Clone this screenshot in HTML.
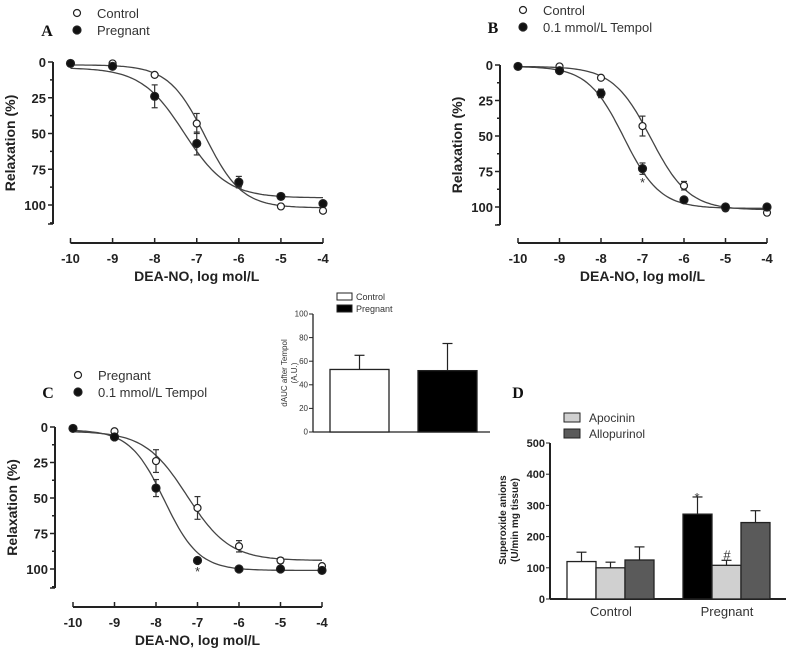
<!DOCTYPE html>
<html><head><meta charset="utf-8"><style>
html,body{margin:0;padding:0;background:#fff}
svg{display:block}
text{font-family:"Liberation Sans",Arial,sans-serif}
.tk{font-weight:bold;font-size:13px;fill:#222}
.ttl{font-weight:bold;font-size:14px;fill:#222}
.leg{font-size:13px;fill:#333}
.let{font-family:"Liberation Serif",serif;font-weight:bold;font-size:16px;fill:#111}
</style></head><body>
<svg id="fig" width="790" height="652" viewBox="0 0 790 652" xmlns="http://www.w3.org/2000/svg"></svg>
<script>
// ---- data ----
const doseTicks = [-10,-9,-8,-7,-6,-5,-4];
const relaxTicks = [0,25,50,75,100];
// Panel A
const aControl = [1,1,9,43,85,101,104];
const aControlErr = [0,0,1,7,2,1,1];
const aPregnant = [1,3,24,57,84,94,99];
const aPregnantErr = [0,1,8,8,4,2,1];
const aControlFit = [2,102,-6.8,1];
const aPregnantFit = [4,95,-7.3,0.85];
// Panel B
const bControl = [1,1,9,43,85,101,104];
const bControlErr = [0,0,1,7,3,1,1];
const bTempol = [1,4,20,73,95,100,100];
const bTempolErr = [0,1,3,4,1,1,1];
const bControlFit = [1,102,-6.8,0.95];
const bTempolFit = [1,101,-7.45,1];
// Panel C
const cPregnant = [1,3,24,57,84,94,98];
const cPregnantErr = [0,1,8,8,4,2,1];
const cTempol = [1,7,43,94,100,100,101];
const cTempolErr = [0,1,6,1,1,1,1];
const cPregnantFit = [3,94,-7.25,0.85];
const cTempolFit = [2,101,-7.8,1.05];
// Inset
const insetGroups = ["Control","Pregnant"];
const insetValues = [53,52];
const insetErr = [12,23];
const insetTicks = [0,20,40,60,80,100];
// Panel D
const dGroups = ["Control","Pregnant"];
const dBaseline = [120,272];
const dBaselineErr = [30,55];
const dApocinin = [100,108];
const dApocininErr = [18,16];
const dAllopurinol = [125,245];
const dAllopurinolErr = [42,38];
const dTicks = [0,100,200,300,400,500];

const NS="http://www.w3.org/2000/svg";
const svg=document.getElementById('fig');
function mk(tag,attrs,parent){const e=document.createElementNS(NS,tag);for(const k in attrs)e.setAttribute(k,attrs[k]);(parent||svg).appendChild(e);return e;}
function txt(x,y,s,cls,anchor,parent){const t=mk('text',{x:x,y:y,class:cls,'text-anchor':anchor||'middle'},parent);t.textContent=s;return t;}

function curvePanel(cfg){
  const g=mk('g',{});
  
  
  const X=v=>cfg.x0+(v+10)/6*(cfg.x1-cfg.x0);
  const Y=v=>cfg.y0+v/100*(cfg.y100-cfg.y0);
  const ya=mk('g',{},g);
  
  
  mk('line',{x1:cfg.ax,y1:Y(0),x2:cfg.ax,y2:cfg.yb,stroke:'#222','stroke-width':2},ya);
  for(let v=0;v<=112.5;v+=12.5){const major=v%25===0&&v<=100;mk('line',{x1:cfg.ax-(major?5:3),y1:Y(v),x2:cfg.ax,y2:Y(v),stroke:'#222','stroke-width':1.5},ya);}
  mk('line',{x1:cfg.ax-5,y1:cfg.yb,x2:cfg.ax,y2:cfg.yb,stroke:'#222','stroke-width':1.5},ya);
  relaxTicks.forEach(v=>txt(cfg.ax-7,Y(v)+5,String(v),'tk','end',ya));
  const yt=txt(0,0,'Relaxation (%)','ttl','middle',ya);
  yt.setAttribute('transform',`translate(${cfg.ax-38},${(Y(0)+cfg.yb)/2}) rotate(-90)`);
  
  
  const xa=mk('g',{},g);
  
  
  mk('line',{x1:X(-10),y1:cfg.xay,x2:X(-4),y2:cfg.xay,stroke:'#222','stroke-width':2},xa);
  doseTicks.forEach(v=>{mk('line',{x1:X(v),y1:cfg.xay-5,x2:X(v),y2:cfg.xay,stroke:'#222','stroke-width':1.5},xa);txt(X(v),cfg.xay+20,String(v),'tk','middle',xa);});
  const xt=txt((X(-10)+X(-4))/2,cfg.xay+38,'DEA-NO, log mol/L','ttl','middle',xa);
  
  
  cfg.series.forEach(s=>{
    const sg=mk('g',{},g);
    
    
    const [top,bot,ec,h]=s.fit;let d='';
    for(let i=0;i<=120;i++){const x=-10+i*0.05;const y=top+(bot-top)/(1+Math.pow(10,(ec-x)*h));d+=(i?'L':'M')+X(x).toFixed(1)+' '+Y(y).toFixed(1);}
    const p=mk('path',{d:d,fill:'none',stroke:'#444','stroke-width':1.3},sg);
    
    
    s.vals.forEach((v,i)=>{
      const e=s.err[i];
      if(e>1){mk('line',{x1:X(doseTicks[i]),y1:Y(v-e),x2:X(doseTicks[i]),y2:Y(v+e),stroke:'#333','stroke-width':1.2},sg);
        mk('line',{x1:X(doseTicks[i])-3,y1:Y(v-e),x2:X(doseTicks[i])+3,y2:Y(v-e),stroke:'#333','stroke-width':1.2},sg);
        mk('line',{x1:X(doseTicks[i])-3,y1:Y(v+e),x2:X(doseTicks[i])+3,y2:Y(v+e),stroke:'#333','stroke-width':1.2},sg);}
      const c=mk('circle',{cx:X(doseTicks[i]),cy:Y(v),r:s.filled?4:3.5,fill:s.filled?'#111':'#fff',stroke:'#222','stroke-width':1.2},sg);
      
      
    });
  });
  (cfg.stars||[]).forEach(st=>txt(X(st[0]),Y(st[1])+4,'*','leg','middle',g));
  const lg=mk('g',{},g);
  
  
  cfg.series.forEach((s,i)=>{
    const ly=cfg.ly+i*17;
    mk('circle',{cx:cfg.lx,cy:ly,r:s.filled?4:3.5,fill:s.filled?'#111':'#fff',stroke:'#222','stroke-width':1.2},lg);
    const t=txt(cfg.lx+20,ly+5,s.label,'leg','start',lg);
    
    
  });
  const L=txt(cfg.lx-30,cfg.ly+23,cfg.letter,'let','middle',g);
  
  
}

curvePanel({name:'panel-a',letter:'A',ax:53,x0:70.5,x1:323,y0:62,y100:205,yb:224,xay:243,lx:77,ly:13,
  series:[{name:'series-control',label:'Control',vals:aControl,err:aControlErr,fit:aControlFit,filled:false},
          {name:'series-pregnant',label:'Pregnant',vals:aPregnant,err:aPregnantErr,fit:aPregnantFit,filled:true}]});
curvePanel({name:'panel-b',letter:'B',ax:500,x0:518,x1:767,y0:65,y100:207,yb:225,xay:243,lx:523,ly:10,
  stars:[[-7,83]],
  series:[{name:'series-control',label:'Control',vals:bControl,err:bControlErr,fit:bControlFit,filled:false},
          {name:'series-tempol',label:'0.1 mmol/L Tempol',vals:bTempol,err:bTempolErr,fit:bTempolFit,filled:true}]});
curvePanel({name:'panel-c',letter:'C',ax:55,x0:73,x1:322,y0:427,y100:569,yb:588,xay:607,lx:78,ly:375,
  stars:[[-7,102]],
  series:[{name:'series-pregnant',label:'Pregnant',vals:cPregnant,err:cPregnantErr,fit:cPregnantFit,filled:false},
          {name:'series-tempol',label:'0.1 mmol/L Tempol',vals:cTempol,err:cTempolErr,fit:cTempolFit,filled:true}]});

function barPanel(cfg){
  const g=mk('g',{});
  
  
  const Y=v=>cfg.y0-v/cfg.max*(cfg.y0-cfg.ytop);
  mk('line',{x1:cfg.ax,y1:Y(0),x2:cfg.ax,y2:Y(cfg.max),stroke:'#222','stroke-width':cfg.sw},g);
  mk('line',{x1:cfg.ax,y1:Y(0),x2:cfg.xend,y2:Y(0),stroke:'#222','stroke-width':cfg.sw},g);
  cfg.ticks.forEach(v=>{mk('line',{x1:cfg.ax-4,y1:Y(v),x2:cfg.ax,y2:Y(v),stroke:'#222','stroke-width':1},g);txt(cfg.ax-5,Y(v)+cfg.fs/3,String(v),cfg.tcls,'end',g);});
  cfg.bars.forEach(b=>{
    const bg=mk('g',{},g);
    
    
    const top=Y(b.v),et=Y(b.v+b.e);
    mk('line',{x1:b.x+b.w/2,y1:top,x2:b.x+b.w/2,y2:et,stroke:'#222','stroke-width':1.2},bg);
    mk('line',{x1:b.x+b.w/2-5,y1:et,x2:b.x+b.w/2+5,y2:et,stroke:'#222','stroke-width':1.2},bg);
    mk('rect',{x:b.x,y:top,width:b.w,height:Y(0)-top,fill:b.fill,stroke:'#222','stroke-width':1.3},bg);
  });
  return {g,Y};
}

const ins=barPanel({name:'inset-dauc-chart',ax:313,xend:490,y0:432,ytop:314,max:100,ticks:insetTicks,sw:1.3,fs:8,tcls:'leg',
  bars:insetValues.map((v,i)=>({name:'bar-'+insetGroups[i].toLowerCase(),x:[330,418][i],w:59,v:v,e:insetErr[i],fill:i?'#000':'#fff'}))});
ins.g.querySelectorAll('text').forEach(t=>t.setAttribute('style','font-size:8px'));
{const t=txt(0,0,'dAUC after Tempol','leg','middle',ins.g);t.setAttribute('style','font-size:8px');t.setAttribute('transform','translate(287,373) rotate(-90)');
 const t2=txt(0,0,'(A.U.)','leg','middle',ins.g);t2.setAttribute('style','font-size:8px');t2.setAttribute('transform','translate(297,373) rotate(-90)');
 const lg=mk('g',{},ins.g);
 
 
 insetGroups.forEach((n,i)=>{mk('rect',{x:337,y:293+i*12,width:15,height:7,fill:i?'#000':'#fff',stroke:'#222'},lg);const t=txt(356,300+i*12,n,'leg','start',lg);t.setAttribute('style','font-size:9px');});}

const dBars=[];
const dx=[[567,596,625],[683,712,741]];
dGroups.forEach((gname,i)=>{
  dBars.push({name:'bar-'+gname.toLowerCase()+'-baseline',x:dx[i][0],w:29,v:dBaseline[i],e:dBaselineErr[i],fill:i?'#000':'#fff'});
  dBars.push({name:'bar-'+gname.toLowerCase()+'-apocinin',x:dx[i][1],w:29,v:dApocinin[i],e:dApocininErr[i],fill:'#d0d0d0'});
  dBars.push({name:'bar-'+gname.toLowerCase()+'-allopurinol',x:dx[i][2],w:29,v:dAllopurinol[i],e:dAllopurinolErr[i],fill:'#5a5a5a'});
});
const D=barPanel({name:'panel-d',ax:550,xend:786,y0:599,ytop:443,max:500,ticks:dTicks,sw:2,fs:12,tcls:'tk',bars:dBars});
D.g.querySelectorAll('text').forEach(t=>t.setAttribute('style','font-size:11px'));
dGroups.forEach((n,i)=>{const t=txt([611,727][i],616,n,'leg','middle',D.g);t.setAttribute('style','font-size:13px');});
txt(697,D.Y(dBaseline[1]+dBaselineErr[1])+5,'*','leg','middle',D.g);
txt(727,D.Y(dApocinin[1]+dApocininErr[1])-1,'#','leg','middle',D.g);
{const t=txt(0,0,'Superoxide anions','tk','middle',D.g);t.setAttribute('style','font-size:10px');t.setAttribute('transform','translate(506,520) rotate(-90)');
 const t2=txt(0,0,'(U/min mg tissue)','tk','middle',D.g);t2.setAttribute('style','font-size:10px');t2.setAttribute('transform','translate(518,520) rotate(-90)');
 const lg=mk('g',{},D.g);
 
 
 [['Apocinin','#d0d0d0'],['Allopurinol','#5a5a5a']].forEach((a,i)=>{mk('rect',{x:564,y:413+i*16,width:16,height:9,fill:a[1],stroke:'#222'},lg);const t=txt(589,422+i*16,a[0],'leg','start',lg);t.setAttribute('style','font-size:12px');});
 const L=txt(518,398,'D','let','middle',D.g);
 
 }
</script>
</body></html>
